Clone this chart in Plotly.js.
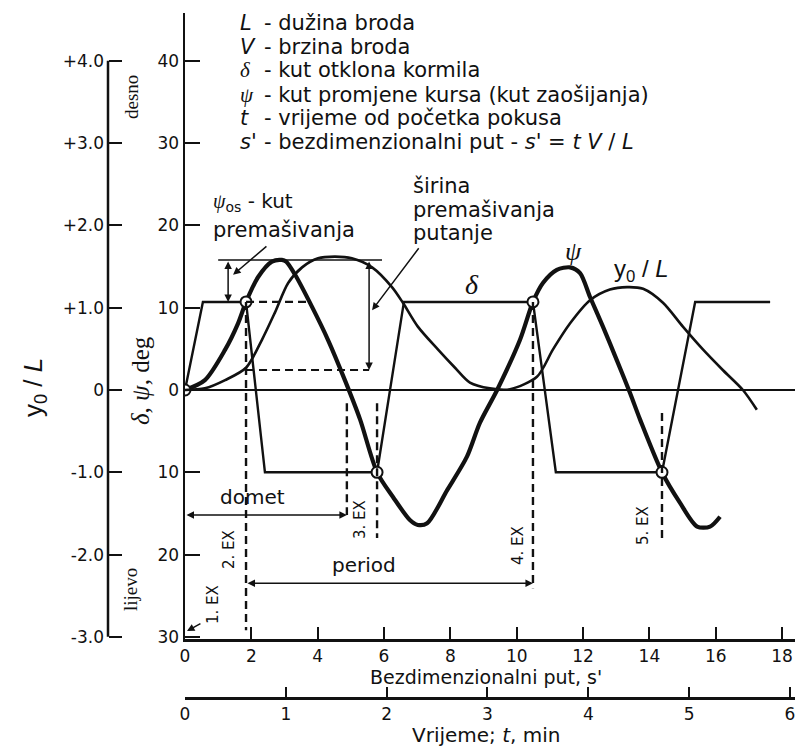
<!DOCTYPE html>
<html><head><meta charset="utf-8">
<script src="https://cdn.plot.ly/plotly-3.0.1.min.js"></script>
<style>html,body{margin:0;padding:0;background:#fff}</style>
</head><body><div id="chart" style="width:795px;height:747px"></div>
<script>
// ---------- DATA ----------
// rudder angle delta [deg] vs dimensionless path s'
const deltaS   = [0, 0.54, 1.84, 2.41, 5.79, 6.60, 10.49, 11.18, 14.38, 15.38, 17.64];
const deltaDeg = [0, 10.7, 10.7, -10, -10, 10.7, 10.7, -10, -10, 10.7, 10.7];
// heading change psi [deg]
const psiS   = [0, 0.60, 1.21, 1.60, 1.84, 2.20, 2.62, 2.92, 3.05, 3.32, 3.83, 4.31, 4.82, 5.28, 5.79, 6.27, 6.78, 7.02, 7.30, 7.90, 8.50, 8.89, 9.41, 10.10, 10.49, 10.79, 11.21, 11.61, 11.91, 12.21, 12.60, 13.02, 13.42, 13.72, 14.38, 14.92, 15.44, 15.83, 16.13];
const psiDeg = [0, 1.2, 4.9, 8.1, 10.7, 13.7, 15.6, 15.8, 15.6, 14.0, 10.1, 6.1, 1.2, -3.6, -10.0, -13.0, -15.8, -16.4, -16.2, -12.2, -8.1, -4.0, 0, 6.1, 10.7, 13.0, 14.6, 14.9, 14.2, 11.3, 7.7, 3.6, -0.4, -3.6, -10.0, -13.7, -16.6, -16.6, -15.4];
// lateral deviation y0/L
const yS  = [0, 0.60, 1.21, 1.84, 2.32, 2.71, 3.11, 3.53, 4.01, 4.52, 5.03, 5.64, 6.24, 6.57, 7.02, 7.63, 8.14, 8.59, 9.19, 9.80, 10.61, 11.09, 11.61, 12.21, 12.81, 13.33, 13.81, 14.41, 15.01, 15.62, 16.22, 16.82, 17.24];
const yL  = [0, 0.02, 0.12, 0.27, 0.61, 0.94, 1.30, 1.49, 1.60, 1.62, 1.60, 1.49, 1.25, 1.06, 0.77, 0.49, 0.27, 0.09, 0.02, 0.01, 0.16, 0.49, 0.81, 1.09, 1.22, 1.25, 1.23, 1.06, 0.77, 0.49, 0.24, 0.00, -0.24];
// execute points (psi = delta)
const exS   = [0, 1.84, 5.79, 10.49, 14.38];
const exDeg = [0, 10.7, -10, 10.7, -10];
const exLabels = ['1. EX', '2. EX', '3. EX', '4. EX', '5. EX'];
// characteristic quantities
const psiPeak = 15.8;        // first overshoot peak level
const yLAtEx2 = 0.243;       // y0/L at 2nd execute
const rangeS = 4.88;         // "domet" (psi crosses zero)
// ticks
const sTicks = [0, 2, 4, 6, 8, 10, 12, 14, 16, 18];
const tTicks = [0, 1, 2, 3, 4, 5, 6];
const degTicks = [40, 30, 20, 10, 0, -10, -20, -30];
const degTickText = ['40', '30', '20', '10', '0', '10', '20', '30'];
const yLTicks = [4, 3, 2, 1, 0, -1, -2, -3];
const yLTickText = ['+4.0', '+3.0', '+2.0', '+1.0', '0', '-1.0', '-2.0', '-3.0'];

// ---------- LAYOUT HELPERS ----------
const W = 795, PT = 13, PB = 698;           // plot area in pixels
const px = v => v / W;                       // pixel x -> paper
const py = v => (PB - v) / (PB - PT);        // pixel y -> paper
const SANS = 'DejaVu Sans', SERIF = 'Liberation Serif';
const K = '#111';

const traces = [
  {x: deltaS, y: deltaDeg, mode: 'lines', line: {color: K, width: 2.4}, hoverinfo: 'skip', showlegend: false},
  {x: yS, y: yL, yaxis: 'y2', mode: 'lines', line: {color: K, width: 2.6, shape: 'spline', smoothing: 0.8}, hoverinfo: 'skip', showlegend: false},
  {x: psiS, y: psiDeg, mode: 'lines', line: {color: K, width: 4.2, shape: 'spline', smoothing: 0.8}, hoverinfo: 'skip', showlegend: false},
  {x: tTicks, y: tTicks.map(() => null), xaxis: 'x2', mode: 'markers', hoverinfo: 'skip', showlegend: false},
  {x: exS, y: exDeg, mode: 'markers', marker: {symbol: 'circle', size: 11, color: '#fff', line: {color: K, width: 2}}, hoverinfo: 'skip', showlegend: false}
];

const dash = '8px,5px';
const shapes = [
  // far-left y0/L axis line
  {type: 'line', xref: 'paper', yref: 'y2', x0: px(108), x1: px(108), y0: yLTicks[yLTicks.length - 1], y1: yLTicks[0], line: {color: K, width: 2.5}},
  // overshoot level line
  {type: 'line', xref: 'x', yref: 'y', x0: 1.0, x1: 5.94, y0: psiPeak, y1: psiPeak, line: {color: K, width: 1.6}},
  // dashed horizontal at rudder level from 2.EX
  {type: 'line', xref: 'x', yref: 'y', x0: exS[1], x1: 3.71, y0: exDeg[1], y1: exDeg[1], line: {color: K, width: 2.2, dash: dash}},
  // dashed horizontal at y0/L of 2.EX
  {type: 'line', xref: 'x', yref: 'y2', x0: exS[1], x1: 5.55, y0: yLAtEx2, y1: yLAtEx2, line: {color: K, width: 2.2, dash: dash}},
  // dashed verticals
  {type: 'line', xref: 'x', yref: 'y', x0: exS[1], x1: exS[1], y0: exDeg[1], y1: -29.2, line: {color: K, width: 2.4, dash: dash}},
  {type: 'line', xref: 'x', yref: 'y', x0: exS[2], x1: exS[2], y0: -1.6, y1: -18.0, line: {color: K, width: 2.4, dash: dash}},
  {type: 'line', xref: 'x', yref: 'y', x0: exS[3], x1: exS[3], y0: exDeg[3], y1: -24.1, line: {color: K, width: 2.4, dash: dash}},
  {type: 'line', xref: 'x', yref: 'y', x0: exS[4], x1: exS[4], y0: -2.8, y1: -18.6, line: {color: K, width: 2.4, dash: dash}},
  {type: 'line', xref: 'x', yref: 'y', x0: rangeS, x1: rangeS, y0: -1.6, y1: -15.2, line: {color: K, width: 2.4, dash: dash}}
];

function arrow(x, y, ax, ay, both, yref) {
  return {xref: 'x', yref: yref || 'y', axref: 'x', ayref: yref || 'y', x: x, y: y, ax: ax, ay: ay, text: '',
    showarrow: true, arrowhead: 2, arrowsize: 1, arrowwidth: 1.5, arrowcolor: K,
    arrowside: both ? 'end+start' : 'end', standoff: 0, startstandoff: 0};
}
function txt(x, y, text, opts) {
  return Object.assign({xref: 'paper', yref: 'paper', x: px(x), y: py(y), text: text, showarrow: false,
    xanchor: 'left', yanchor: 'middle', font: {family: SANS, size: 21, color: K}}, opts || {});
}
const sym = s => '<span style="font-family:' + SERIF + '"><i>' + s + '</i></span>';

const rows = [23, 47, 70, 95, 118, 142];
const symbols = ['<i>L</i>', '<i>V</i>', sym('δ'), sym('ψ'), '<i>t</i>', "<i>s'</i>"];
const descr = ['- dužina broda', '- brzina broda', '- kut otklona kormila', '- kut promjene kursa (kut zaošijanja)',
  '- vrijeme od početka pokusa', "- bezdimenzionalni put - <i>s'</i> = <i>t V</i> / <i>L</i>"];

const annotations = [];
rows.forEach((r, i) => {
  annotations.push(txt(238, r, symbols[i], {font: {family: SANS, size: 21, color: K}}));
  annotations.push(txt(262, r, descr[i]));
});
annotations.push(
  txt(211, 202, sym('ψ') + '<sub>os</sub> - kut', {font: {family: SANS, size: 20, color: K}}),
  txt(211, 230, 'premašivanja'),
  txt(411, 186, 'širina'),
  txt(411, 210, 'premašivanja'),
  txt(411, 233, 'putanje'),
  txt(252, 497, 'domet', {xanchor: 'center', font: {family: SANS, size: 20, color: K}}),
  txt(364, 565, 'period', {xanchor: 'center', font: {family: SANS, size: 20, color: K}}),
  txt(472, 284, '<i>δ</i>', {xanchor: 'center', font: {family: SERIF, size: 28, color: K}}),
  txt(573, 252, '<i>ψ</i>', {xanchor: 'center', font: {family: SERIF, size: 26, color: K}}),
  txt(641, 270, 'y<sub>0</sub> / <i>L</i>', {xanchor: 'center', font: {family: 'Liberation Sans', size: 24, color: K}}),
  txt(141, 381, '<i>δ</i>, <i>ψ</i>, deg', {xanchor: 'center', textangle: -90, font: {family: SERIF, size: 25, color: K}}),
  txt(34, 388, 'y<sub>0</sub> / <i>L</i>', {xanchor: 'center', textangle: -90, font: {family: 'Liberation Sans', size: 26, color: K}}),
  txt(131, 97, 'desno', {xanchor: 'center', textangle: -90, font: {family: SERIF, size: 19, color: K}}),
  txt(130, 590, 'lijevo', {xanchor: 'center', textangle: -90, font: {family: SERIF, size: 19, color: K}}),
  txt(486, 677, "Bezdimenzionalni put, s'", {xanchor: 'center', font: {family: SANS, size: 19, color: K}}),
  txt(486, 735, 'Vrijeme; <i>t</i>, min', {xanchor: 'center', font: {family: SANS, size: 20, color: K}})
);
const exPos = [[213, 605], [229, 550], [360, 520], [518, 546], [643, 526]];
exLabels.forEach((l, i) => annotations.push(txt(exPos[i][0], exPos[i][1], l,
  {xanchor: 'center', textangle: -90, font: {family: SANS, size: 15, color: K}})));
annotations.push(
  arrow(1.30, exDeg[1], 1.30, psiPeak, true),
  arrow(5.55, yLAtEx2 * 10, 5.55, psiPeak, true),
  arrow(rangeS, -15.2, 0, -15.2, true),
  arrow(exS[3], -23.5, exS[1], -23.5, true),
  arrow(1.45, 14.0, 2.50, 17.6, false),
  arrow(5.64, 9.7, 7.08, 17.4, false),
  arrow(0.06, -29.3, 0.51, -28.3, false)
);

const tickFont = {family: SANS, size: 17, color: K};
const layout = {
  width: 795, height: 747,
  margin: {l: 0, r: 0, t: PT, b: 747 - PB},
  paper_bgcolor: '#fff', plot_bgcolor: 'rgba(0,0,0,0)',
  showlegend: false,
  xaxis: {domain: [px(185), 1], range: [0, 18.39], anchor: 'y', showgrid: false, zeroline: false,
    showline: true, linecolor: K, linewidth: 2.5, ticks: 'inside', ticklen: 12, tickwidth: 2, tickcolor: K,
    tickvals: sTicks, tickfont: tickFont, ticklabeloverflow: 'allow'},
  xaxis2: {overlaying: 'x', anchor: 'free', position: 0, side: 'bottom', range: [0, 6.05], showgrid: false, zeroline: false,
    showline: true, linecolor: K, linewidth: 2.5, ticks: 'inside', ticklen: 10, tickwidth: 2, tickcolor: K,
    tickvals: tTicks, tickfont: tickFont, ticklabeloverflow: 'allow'},
  yaxis: {domain: [py(639), 1], range: [-30.26, 45.81], anchor: 'x', showgrid: false,
    zeroline: true, zerolinecolor: K, zerolinewidth: 1.6,
    showline: true, linecolor: K, linewidth: 2.5, ticks: 'inside', ticklen: 15, tickwidth: 2, tickcolor: K,
    tickvals: degTicks, ticktext: degTickText, tickfont: tickFont},
  yaxis2: {overlaying: 'y', anchor: 'free', position: px(108), side: 'left', range: [-3.026, 4.581],
    showgrid: false, zeroline: false, showline: false, ticks: 'inside', ticklen: 13, tickwidth: 2, tickcolor: K,
    tickvals: yLTicks, ticktext: yLTickText, tickfont: tickFont, ticklabelstandoff: 4},
  shapes: shapes,
  annotations: annotations
};
Plotly.newPlot('chart', traces, layout, {staticPlot: true});
</script>
</body></html>
